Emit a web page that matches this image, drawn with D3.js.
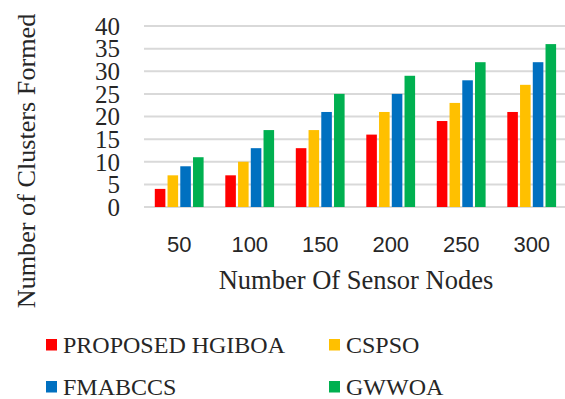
<!DOCTYPE html>
<html>
<head>
<meta charset="utf-8">
<script src="https://cdn.jsdelivr.net/npm/d3@7"></script>
<style>
  html, body { margin: 0; padding: 0; background: #fff; }
  svg { display: block; }
  .serif { font-family: "Liberation Serif", "Times New Roman", Times, "DejaVu Serif", serif; }
  .sans { font-family: "Liberation Sans", Arial, sans-serif; }
</style>
</head>
<body>
<svg id="chart" width="565" height="399"></svg>
<script>
// Number of clusters formed per network size, one series per algorithm
const categories = ["50", "100", "150", "200", "250", "300"];
const seriesNames = ["PROPOSED HGIBOA", "CSPSO", "FMABCCS", "GWWOA"];
const seriesColors = ["#ff0000", "#ffc000", "#0070c0", "#00b050"];
const hgiboa  = [4, 7, 13, 16, 19, 21];
const cspso   = [7, 10, 17, 21, 23, 27];
const fmabccs = [9, 13, 21, 25, 28, 32];
const gwwoa   = [11, 17, 25, 29, 32, 36];
const yTicks  = [0, 5, 10, 15, 20, 25, 30, 35, 40];

const seriesValues = [hgiboa, cspso, fmabccs, gwwoa];
const rows = categories.map((c, i) => ({
  category: c,
  values: seriesNames.map((s, k) => ({ name: s, value: seriesValues[k][i], color: seriesColors[k] }))
}));

const svg = d3.select("#chart");
const textColor = "#262626";

const x0 = d3.scaleBand().domain(categories).range([144, 567]).paddingInner(0).paddingOuter(0);
const x1 = d3.scaleBand().domain(seriesNames).range([10.8, 59.6]).paddingInner(0.17).paddingOuter(0);
const y = d3.scaleLinear().domain([0, 40]).range([207, 26]);

// horizontal gridlines
svg.append("g")
  .selectAll("line")
  .data(yTicks)
  .join("line")
  .attr("x1", 144).attr("x2", 567)
  .attr("y1", d => y(d)).attr("y2", d => y(d))
  .attr("stroke", "#d9d9d9").attr("stroke-width", 2);

// y axis labels
const yAxis = d3.axisLeft(y).tickValues(yTicks).tickSize(0).tickPadding(0);
const gy = svg.append("g").attr("transform", "translate(120,0)").call(yAxis);
gy.attr("font-family", null).attr("font-size", null);
gy.select(".domain").remove();
gy.selectAll("text")
  .attr("class", "serif").attr("font-size", 25).attr("dy", "0.33em").attr("fill", textColor);

// bars
const groups = svg.append("g")
  .selectAll("g")
  .data(rows)
  .join("g")
  .attr("transform", d => `translate(${x0(d.category)},0)`);

groups.selectAll("rect")
  .data(d => d.values)
  .join("rect")
  .attr("x", d => x1(d.name))
  .attr("width", x1.bandwidth())
  .attr("y", d => y(d.value))
  .attr("height", d => y(0) - y(d.value))
  .attr("fill", d => d.color);

// x axis labels
const xAxis = d3.axisBottom(x0).tickSize(0).tickPadding(0);
const gx = svg.append("g").attr("transform", "translate(0,236)").call(xAxis);
gx.attr("font-family", null).attr("font-size", null);
gx.select(".domain").remove();
gx.selectAll("text")
  .attr("dy", "0.72em")
  .attr("class", "sans").attr("font-size", 22).attr("fill", textColor);

// axis titles
svg.append("text")
  .attr("class", "serif")
  .attr("x", 356).attr("y", 288.5)
  .attr("text-anchor", "middle")
  .attr("font-size", 26.5).attr("fill", textColor)
  .text("Number Of Sensor Nodes");

svg.append("text")
  .attr("class", "serif")
  .attr("transform", "translate(35,161) rotate(-90)")
  .attr("text-anchor", "middle")
  .attr("font-size", 26.2).attr("fill", textColor)
  .text("Number of Clusters Formed");

// legend
const legendPos = [[46, 353], [329, 353], [46, 395], [329, 395]];
const legend = svg.append("g")
  .selectAll("g")
  .data(seriesNames)
  .join("g")
  .attr("transform", (d, i) => `translate(${legendPos[i][0]},${legendPos[i][1]})`);
legend.append("rect")
  .attr("x", 0).attr("y", -14).attr("width", 11).attr("height", 11.5)
  .attr("fill", (d, i) => seriesColors[i]);
legend.append("text")
  .attr("class", "serif")
  .attr("x", 17).attr("y", 0)
  .attr("font-size", 24).attr("fill", textColor)
  .text(d => d);
</script>
</body>
</html>
